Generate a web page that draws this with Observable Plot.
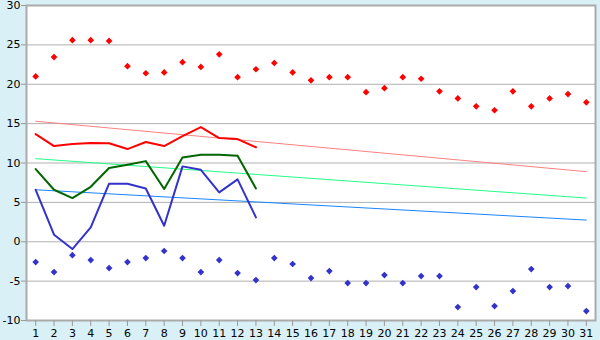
<!DOCTYPE html>
<html>
<head>
<meta charset="utf-8">
<script src="https://cdn.jsdelivr.net/npm/d3@7"></script>
<script src="https://cdn.jsdelivr.net/npm/@observablehq/plot@0.6"></script>
<style>
  html, body { margin: 0; padding: 0; background: #d9f0f7; }
  #chart svg { display: block; }
</style>
</head>
<body>
<div id="chart"></div>
<script>
const days = d3.range(1, 32);
const recordMax = [21.0, 23.45, 25.6, 25.6, 25.5, 22.3, 21.4, 21.5, 22.8, 22.2, 23.8, 20.9, 21.9, 22.7, 21.5,
  20.5, 20.9, 20.9, 19.0, 19.5, 20.9, 20.7, 19.1, 18.2, 17.2, 16.7, 19.1, 17.2, 18.2, 18.75, 17.7];
const recordMin = [-2.58, -3.85, -1.7, -2.33, -3.34, -2.58, -2.07, -1.18, -2.07, -3.85, -2.33, -3.98, -4.87, -2.07, -2.83,
  -4.61, -3.72, -5.25, -5.25, -4.23, -5.25, -4.36, -4.36, -8.3, -5.76, -8.17, -6.26, -3.47, -5.76, -5.63, -8.8];
const dailyMax = [13.67, 12.15, 12.4, 12.53, 12.5, 11.77, 12.66, 12.15, 13.4, 14.56, 13.17, 13.04, 12.0];
const dailyMean = [9.23, 6.6, 5.55, 6.98, 9.36, 9.78, 10.24, 6.69, 10.71, 11.05, 11.05, 10.92, 6.77];
const dailyMin = [6.6, 0.89, -0.93, 1.82, 7.37, 7.37, 6.77, 2.03, 9.57, 9.14, 6.27, 7.92, 3.09];
const trendDays = [1, 31];
const trendMax = [15.3, 8.9];
const trendMean = [10.55, 5.55];
const trendMin = [6.6, 2.75];
const yTicks = [-10, -5, 0, 5, 10, 15, 20, 25, 30];

const rec = days.map((d, i) => ({day: d, max: recordMax[i], min: recordMin[i]}));
const daily = dailyMax.map((v, i) => ({day: days[i], max: v, mean: dailyMean[i], min: dailyMin[i]}));
const trend = trendDays.map((d, i) => ({day: d, max: trendMax[i], mean: trendMean[i], min: trendMin[i]}));

const chart = Plot.plot({
  width: 600,
  height: 340,
  marginLeft: 26,
  marginRight: 5,
  marginTop: 5,
  marginBottom: 20,
  style: {background: "#d9f0f7", fontFamily: "DejaVu Sans", fontSize: "11px", color: "black"},
  x: {domain: [0.5, 31.5], label: null},
  y: {domain: [-10, 30], label: null},
  marks: [
    Plot.frame({fill: "white", stroke: null}),
    Plot.gridY(yTicks, {stroke: "#b0b0b0", strokeOpacity: 1}),
    Plot.line(trend, {x: "day", y: "max", stroke: "#ff8080", strokeWidth: 1}),
    Plot.line(trend, {x: "day", y: "mean", stroke: "#22ff88", strokeWidth: 1}),
    Plot.line(trend, {x: "day", y: "min", stroke: "#1a85ff", strokeWidth: 1}),
    Plot.line(daily, {x: "day", y: "max", stroke: "#ff0000", strokeWidth: 2}),
    Plot.line(daily, {x: "day", y: "mean", stroke: "#006600", strokeWidth: 2}),
    Plot.line(daily, {x: "day", y: "min", stroke: "#3333cc", strokeWidth: 2}),
    Plot.dot(rec, {x: "day", y: "max", symbol: "diamond2", r: 3, fill: "#ff0000", stroke: null}),
    Plot.dot(rec, {x: "day", y: "min", symbol: "diamond2", r: 3, fill: "#3333cc", stroke: null}),
    Plot.frame({stroke: "#aaaaaa", strokeWidth: 2}),
    Plot.axisX(days, {tickSize: 6, tickPadding: 3, stroke: "#999", label: null, tickFormat: d => String(d)}),
    Plot.axisY(yTicks, {tickSize: 5, tickPadding: 1, stroke: "#999", label: null, tickFormat: d => String(d)})
  ]
});
document.getElementById("chart").appendChild(chart);
</script>
</body>
</html>
